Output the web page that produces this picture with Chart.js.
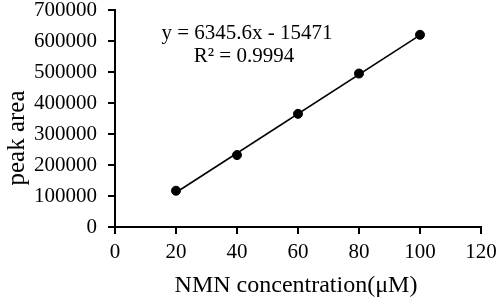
<!DOCTYPE html>
<html><head><meta charset="utf-8">
<script src="https://cdn.jsdelivr.net/npm/chart.js@4/dist/chart.umd.min.js"></script>
<style>html,body{margin:0;padding:0;background:#fff;}#c{display:block;}</style>
</head><body>
<canvas id="c" width="498" height="301"></canvas>
<script>
const concentrations = [20, 40, 60, 80, 100];
const peakAreas = [117000, 232000, 365000, 495000, 620000];
const xTicks = [0, 20, 40, 60, 80, 100, 120];
const yTicks = [0, 100000, 200000, 300000, 400000, 500000, 600000, 700000];
const slope = 6345.6, intercept = -15471;
const equationText = 'y = 6345.6x - 15471';
const r2Text = 'R² = 0.9994';
const xTitle = 'NMN concentration(μM)';
const yTitle = 'peak area';

const FONT = "'Liberation Serif','Times New Roman',serif";
const trend = [concentrations[0], concentrations[concentrations.length-1]].map(x => ({x, y: slope*x + intercept}));

const annot = {
  id: 'annot',
  afterDraw(chart) {
    const ctx = chart.ctx;
    ctx.save();
    ctx.fillStyle = '#000';
    ctx.textAlign = 'center';
    ctx.textBaseline = 'middle';
    ctx.font = '21px ' + FONT;
    ctx.fillText(equationText, 247, 33);
    ctx.fillText(r2Text, 244, 56);
    ctx.font = '24px ' + FONT;
    ctx.fillText(xTitle, 296, 286);
    ctx.translate(17, 138);
    ctx.rotate(-Math.PI/2);
    ctx.font = '25px ' + FONT;
    ctx.fillText(yTitle, 0, 0);
    ctx.restore();
  }
};

new Chart(document.getElementById('c'), {
  type: 'scatter',
  data: {
    datasets: [
      { data: concentrations.map((x,i)=>({x, y: peakAreas[i]})), backgroundColor:'#000', borderColor:'#000', pointRadius:4.5, showLine:false },
      { type:'line', data: trend, borderColor:'#000', borderWidth:1.6, pointRadius:0, fill:false }
    ]
  },
  options: {
    responsive:false, animation:false, devicePixelRatio:1,
    layout:{ padding:{ left:0, right:17, top:10, bottom:0 } },
    plugins:{ legend:{display:false}, tooltip:{enabled:false} },
    scales:{
      x:{ type:'linear', min:0, max:120,
        afterBuildTicks(s){ s.ticks = xTicks.map(v=>({value:v})); },
        afterFit(s){ s.height = 74; s.paddingLeft = 0; s.paddingRight = 0; },
        ticks:{ color:'#000', font:{family:FONT, size:21, lineHeight:1}, padding:8, maxRotation:0 },
        grid:{ drawOnChartArea:false, drawTicks:true, tickLength:7, color:'#000', lineWidth:2 },
        border:{ color:'#000', width:2 }
      },
      y:{ type:'linear', min:0, max:700000,
        afterBuildTicks(s){ s.ticks = yTicks.map(v=>({value:v})); },
        afterFit(s){ s.width = 115; s.paddingTop = 0; s.paddingBottom = 0; },
        ticks:{ color:'#000', font:{family:FONT, size:21, lineHeight:1}, padding:11, callback:v=>String(v) },
        grid:{ drawOnChartArea:false, drawTicks:true, tickLength:7, color:'#000', lineWidth:2 },
        border:{ color:'#000', width:2 }
      }
    }
  },
  plugins:[annot]
});
</script>
</body></html>
